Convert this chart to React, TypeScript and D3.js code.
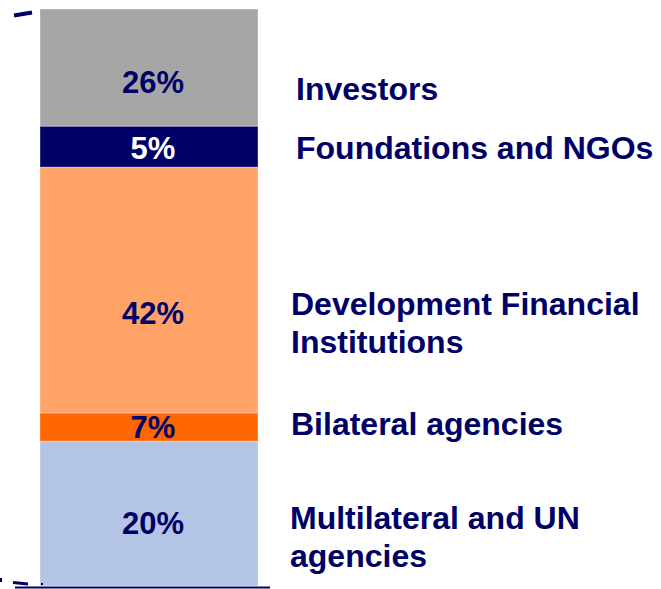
import { useEffect, useRef } from 'react';
import * as d3 from 'd3';

// Segments from bottom to top
const categories = [
  'Multilateral and UN agencies',
  'Bilateral agencies',
  'Development Financial Institutions',
  'Foundations and NGOs',
  'Investors',
];
const shareLabels = ['20%', '7%', '42%', '5%', '26%'];
// segment heights as drawn in the picture (percentage points)
const segmentSizes = [25.1, 4.9, 42.6, 7.1, 20.3];
const legendLines = [
  ['Multilateral and UN', 'agencies'],
  ['Bilateral agencies'],
  ['Development Financial', 'Institutions'],
  ['Foundations and NGOs'],
  ['Investors'],
];

const colors = ['#b4c4e4', '#ff6600', '#ffa366', '#000066', '#a6a6a6'];
const valueColors = ['#000066', '#000066', '#000066', '#ffffff', '#000066'];
// pixel nudges from segment middle
const valueNudge = [9, 0, 23, 1, 14];
const legendNudge = [23, -4, 32, 1, 21];
const legendX = [290, 291, 291, 296, 296];

const W = 661;
const H = 589;
const NAVY = '#000066';

const App = () => {
  const ref = useRef<SVGSVGElement | null>(null);

  useEffect(() => {
    const svg = d3.select(ref.current);
    svg.selectAll('*').remove();

    const y = d3.scaleLinear().domain([0, 100]).range([586, 9]);
    const x = d3.scaleBand().domain(['all']).range([40, 258]).padding(0);

    const stacked: { i: number; y0: number; y1: number }[] = [];
    let acc = 0;
    segmentSizes.forEach((s, i) => {
      stacked.push({ i, y0: acc, y1: acc + s });
      acc += s;
    });

    svg.append('g')
      .selectAll('rect')
      .data(stacked)
      .enter()
      .append('rect')
      .attr('x', x('all') as number)
      .attr('width', x.bandwidth())
      .attr('y', d => y(d.y1))
      .attr('height', d => y(d.y0) - y(d.y1))
      .attr('fill', d => colors[d.i])
      .attr('stroke', 'rgba(255,255,255,0.35)')
      .attr('stroke-width', 1);

    const font = '"Liberation Sans", Arial, sans-serif';

    // value labels in bar
    svg.append('g')
      .selectAll('text')
      .data(stacked)
      .enter()
      .append('text')
      .attr('x', (x('all') as number) + x.bandwidth() / 2 + 4)
      .attr('y', d => (y(d.y0) + y(d.y1)) / 2 + valueNudge[d.i])
      .attr('dy', '0.36em')
      .attr('text-anchor', 'middle')
      .style('font-family', font)
      .style('font-weight', 'bold')
      .style('font-size', '31px')
      .style('fill', d => valueColors[d.i])
      .text(d => shareLabels[d.i]);

    // category labels
    const lh = 38;
    stacked.forEach(d => {
      const lines = legendLines[d.i];
      const cy = (y(d.y0) + y(d.y1)) / 2 + legendNudge[d.i];
      const t = svg.append('text')
        .attr('x', legendX[d.i])
        .attr('y', cy - ((lines.length - 1) * lh) / 2)
        .style('font-family', font)
        .style('font-weight', 'bold')
        .style('font-size', '32px')
        .style('fill', NAVY);
      t.append('title').text(categories[d.i]);
      lines.forEach((l, k) => {
        t.append('tspan')
          .attr('x', legendX[d.i])
          .attr('dy', k === 0 ? '0.36em' : lh)
          .text(l);
      });
    });

    // cropped axis remnants
    svg.append('line')
      .attr('x1', 14).attr('y1', 15.5).attr('x2', 32).attr('y2', 12.5)
      .attr('stroke', NAVY).attr('stroke-width', 4);
    svg.append('line')
      .attr('x1', 15).attr('x2', 270).attr('y1', y(0) + 1.5).attr('y2', y(0) + 1.5)
      .attr('stroke', NAVY).attr('stroke-width', 2);
    svg.append('line')
      .attr('x1', 13).attr('y1', 582.5).attr('x2', 28).attr('y2', 584)
      .attr('stroke', NAVY).attr('stroke-width', 3);
    svg.append('rect')
      .attr('x', 0).attr('y', 578).attr('width', 2).attr('height', 4)
      .attr('fill', NAVY);
    svg.append('rect')
      .attr('x', 41).attr('y', 583).attr('width', 2).attr('height', 2)
      .attr('fill', NAVY);
  }, []);

  return (
    <div style={{ position: 'absolute', left: 0, top: 0, width: W, height: H, background: '#fff' }}>
      <svg ref={ref} width={W} height={H} viewBox={`0 0 ${W} ${H}`} />
    </div>
  );
};

export default App;
